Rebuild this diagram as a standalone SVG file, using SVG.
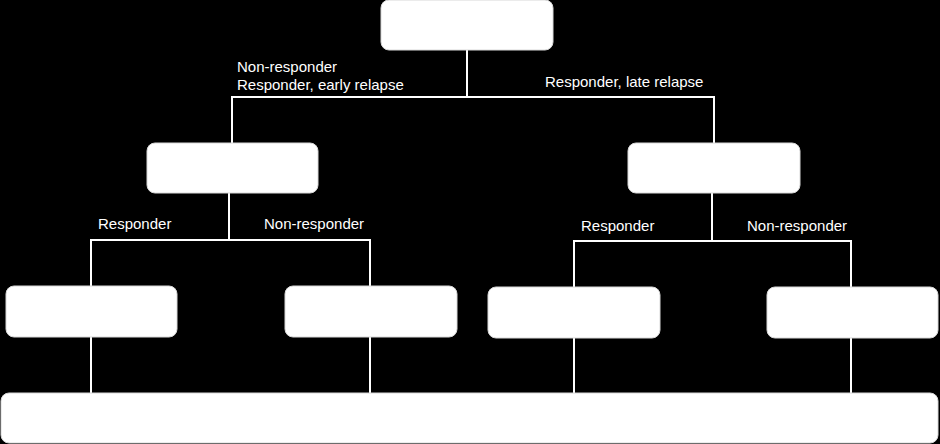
<svg xmlns="http://www.w3.org/2000/svg" width="940" height="444" viewBox="0 0 940 444">
<style>
.box{fill:#ffffff;stroke:#d8d8d8;stroke-width:1}
.ln{fill:none;stroke:#ffffff;stroke-width:2}
.lbl{fill:#ffffff;font-family:"Liberation Sans",Arial,sans-serif;font-size:15px}
</style>
<rect width="940" height="444" fill="#000000"/>
<g id="connectors">
<path class="ln" d="M467,50 V97 M232,143 V97 H714 V143"/>
<path class="ln" d="M229,193 V240 M91,286 V240 H370 V286"/>
<path class="ln" d="M712,193 V241 M574,287 V241 H851 V287"/>
<path class="ln" d="M91,337 V393 M370,337 V393 M574,338 V393 M851,338 V393"/>
</g>
<g id="labels">
<text class="lbl" x="237" y="72">Non-responder</text>
<text class="lbl" x="237" y="90">Responder, early relapse</text>
<text class="lbl" x="545" y="87">Responder, late relapse</text>
<text class="lbl" x="98" y="229">Responder</text>
<text class="lbl" x="264" y="229">Non-responder</text>
<text class="lbl" x="581" y="231">Responder</text>
<text class="lbl" x="747" y="231">Non-responder</text>
</g>
<g id="node-top"><rect class="box" x="381" y="0" width="172" height="50" rx="8"/></g>
<g id="node-mid-left"><rect class="box" x="147" y="143" width="171" height="50" rx="8"/></g>
<g id="node-mid-right"><rect class="box" x="628" y="143" width="172" height="50" rx="8"/></g>
<g id="node-bl1"><rect class="box" x="6" y="286" width="171" height="51" rx="8"/></g>
<g id="node-bl2"><rect class="box" x="285" y="286" width="172" height="51" rx="8"/></g>
<g id="node-br1"><rect class="box" x="488" y="287" width="172" height="51" rx="8"/></g>
<g id="node-br2"><rect class="box" x="767" y="287" width="171" height="51" rx="8"/></g>
<g id="node-bottom"><rect class="box" x="1" y="393" width="937" height="50" rx="8"/></g>
</svg>
